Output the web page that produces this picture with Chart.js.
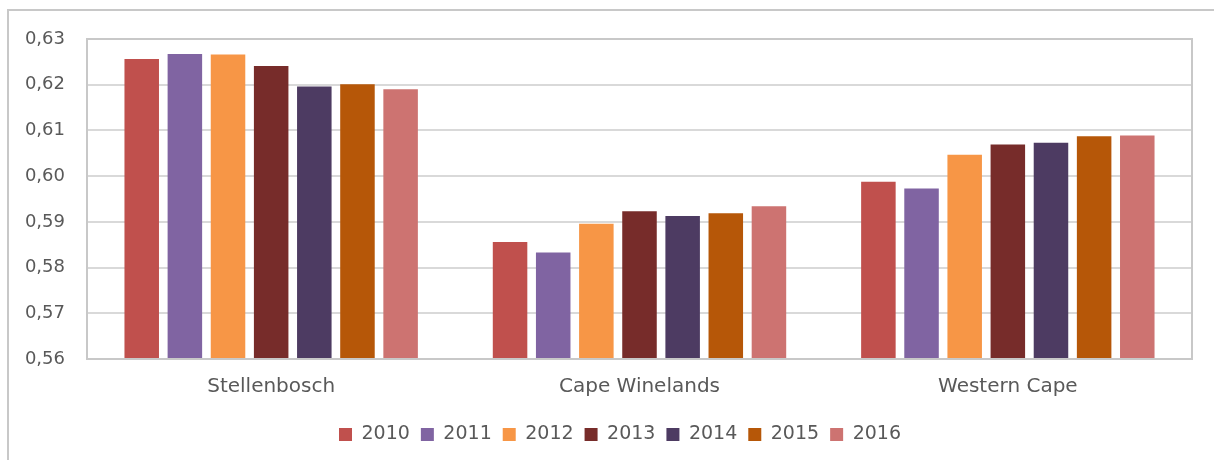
<!DOCTYPE html>
<html>
<head>
<meta charset="utf-8">
<script src="https://cdn.jsdelivr.net/npm/chart.js@4.4.0/dist/chart.umd.min.js"></script>
<style>
html,body{margin:0;padding:0;background:#fff;}
#wrap{width:1214px;height:460px;position:relative;}
</style>
</head>
<body>
<div id="wrap"><canvas id="c" width="1214" height="460"></canvas></div>
<script>
const categories = ["Stellenbosch", "Cape Winelands", "Western Cape"];
const years = ["2010", "2011", "2012", "2013", "2014", "2015", "2016"];
const v2010 = [0.6256, 0.5856, 0.5988];
const v2011 = [0.6267, 0.5833, 0.5973];
const v2012 = [0.6266, 0.5896, 0.6047];
const v2013 = [0.6241, 0.5923, 0.6069];
const v2014 = [0.6196, 0.5913, 0.6073];
const v2015 = [0.6201, 0.5919, 0.6087];
const v2016 = [0.6190, 0.5934, 0.6089];
const yTicks = [0.56, 0.57, 0.58, 0.59, 0.60, 0.61, 0.62, 0.63];

const seriesValues = [v2010, v2011, v2012, v2013, v2014, v2015, v2016];
const colors = ["#C0504D", "#8064A2", "#F79646", "#772C2A", "#4D3B62", "#B65708", "#CD7371"];
const FONT = "'DejaVu Sans', sans-serif";
const TXT = "#595959";

const framePlugin = {
  id: 'frame',
  afterUpdate(chart) {
    // shift legend to be centred like the reference
    const lg = chart.legend;
    if (lg) { lg.left += 14; lg.right += 14; }
  },
  beforeDraw(chart) {
    const ctx = chart.ctx;
    ctx.save();
    ctx.fillStyle = '#fff';
    ctx.fillRect(0, 0, chart.width, chart.height);
    ctx.strokeStyle = '#C8C8C8';
    ctx.lineWidth = 2;
    ctx.beginPath();
    ctx.moveTo(1214, 10);
    ctx.lineTo(8, 10);
    ctx.lineTo(8, 460);
    ctx.stroke();
    ctx.restore();
  },
  afterDatasetsDraw(chart) {
    const a = chart.chartArea;
    const ctx = chart.ctx;
    ctx.save();
    ctx.strokeStyle = '#C8C8C8';
    ctx.lineWidth = 2;
    ctx.strokeRect(a.left, a.top, a.right - a.left, a.bottom - a.top);
    ctx.restore();
  }
};

new Chart(document.getElementById('c'), {
  type: 'bar',
  data: {
    labels: categories,
    datasets: years.map((y, i) => ({
      label: y,
      data: seriesValues[i],
      backgroundColor: colors[i],
      borderWidth: 0,
      categoryPercentage: 0.82,
      barPercentage: 0.8
    }))
  },
  options: {
    responsive: false,
    animation: false,
    devicePixelRatio: 1,
    layout: { padding: { left: 20, right: 22, top: 39, bottom: 6 } },
    plugins: {
      legend: {
        position: 'bottom',
        labels: {
          font: { family: FONT, size: 19 },
          color: TXT,
          boxWidth: 13,
          boxHeight: 13,
          padding: 11,
          useBorderRadius: false
        }
      },
      tooltip: { enabled: false }
    },
    scales: {
      x: {
        grid: { display: false, drawTicks: false },
        border: { display: false },
        ticks: { font: { family: FONT, size: 20 }, color: TXT, padding: 16 },
        afterFit(s) { s.height = 55; }
      },
      y: {
        min: 0.56,
        max: 0.63,
        afterBuildTicks(s) { s.ticks = yTicks.map(v => ({ value: v })); },
        grid: { color: '#D9D9D9', lineWidth: 2, drawTicks: false },
        border: { display: false },
        ticks: {
          font: { family: FONT, size: 18 },
          color: TXT,
          padding: 22,
          callback: v => v.toFixed(2).replace('.', ',')
        },
        afterFit(s) { s.width = 67; }
      }
    }
  },
  plugins: [framePlugin]
});
</script>
</body>
</html>
